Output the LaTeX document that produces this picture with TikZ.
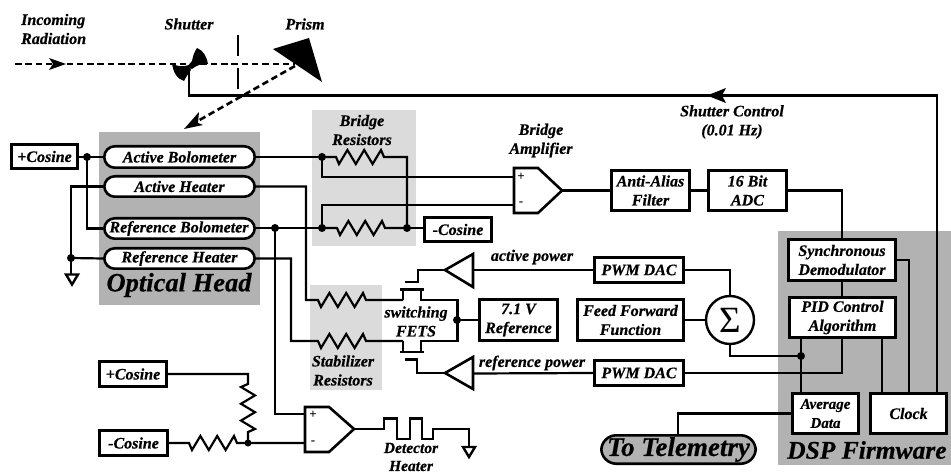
\documentclass[tikz,border=0pt]{standalone}
\usepackage{fontspec}
\setmainfont[BoldItalicFeatures={FakeBold=0.5}]{Liberation Serif}
\definecolor{headgray}{gray}{0.70}
\definecolor{palegray}{gray}{0.86}
\newcommand{\lab}[1]{\fontsize{#1}{19}\selectfont\bfseries\itshape}
\tikzset{
  x=1pt,y=-1pt,
  wire/.style={line width=2.2pt,line join=miter},
  beam/.style={line width=2.6pt,dash pattern=on 6.5pt off 3.8pt},
  blockbox/.style={draw,line width=2.6pt,fill=white,inner sep=0pt,align=center,font=\lab{16}},
  pill/.style={blockbox,rounded corners=10.5pt},
  junction/.style={circle,fill=black,inner sep=0pt,minimum size=8pt},
  caption/.style={align=center,inner sep=0pt,font=\lab{16}},
  bigcap/.style={inner sep=0pt,font=\lab{26.5}},
  signmark/.style={inner sep=0pt,font=\fontsize{13}{13}\selectfont\bfseries},
  amp/.style={draw,line width=2.6pt,fill=white,line join=miter},
  groundmark/.style={draw,line width=2.4pt,fill=white,line join=miter},
}
\newcommand{\boxat}[7]{\node[#6,minimum width={#4-#2-2.6},minimum height={#5-#3-2.6}] (#1) at ({(#2+#4)/2},{(#3+#5)/2}) {#7};}
\newcommand{\resH}{-- ++(3,7) -- ++(8.4,-14) -- ++(8.4,14) -- ++(8.4,-14) -- ++(8.4,14) -- ++(8.4,-14) -- ++(3,7)}
\newcommand{\resV}{-- ++(-7,3) -- ++(14,8.4) -- ++(-14,8.4) -- ++(14,8.4) -- ++(-14,8.4) -- ++(14,8.4) -- ++(-7,3)}
\begin{document}
\begin{tikzpicture}
\useasboundingbox (0,0) rectangle (951,473);
\fill[white] (0,0) rectangle (951,473);
% zones
\fill[headgray] (99,132) rectangle (260,305);
\fill[palegray] (312,110) rectangle (416,246);
\fill[palegray] (310,285) rectangle (382,390);
\fill[headgray] (778,231) rectangle (951,465);
% optics
\coordinate (beamstart) at (15,64);
\coordinate (prismhit) at (295,64);
\coordinate (prismexit) at (295,66);
\coordinate (headtop) at (196,122);
\draw[beam] (beamstart) -- (prismhit);
\fill (49,58) -- (66,64) -- (49,70) -- (53,64) -- cycle;
\draw[line width=2.4pt] (238,35) -- (238,56) (238,68) -- (238,89);
\draw[beam] (prismexit) -- (headtop);
\fill (184,129) -- (199,112) -- (198,123) -- (203,125) -- cycle;
\fill (273,49) -- (309,38) -- (322,82) -- cycle;
% shutter
\fill (172,63) .. controls (177,67) and (183,67) .. (189,65) -- (191,70) .. controls (188,74) and (186,77) .. (184,81) .. controls (177,79) and (173,72) .. (172,63) -- cycle;
\fill (187,67) -- (192,61) .. controls (193,55) and (195,51) .. (197,48) .. controls (203,50) and (207,57) .. (208,64) .. controls (203,63) and (197,65) .. (192,69) -- cycle;
\coordinate (shutterfoot) at (189,70);
\coordinate (shuttercorner) at (189,95.5);
\coordinate (firmcorner) at (937,95.5);
% blocks: optical head
\boxat{posA}{10}{143}{79}{170}{blockbox}{+Cosine}
\boxat{actbol}{103}{145}{256}{169}{pill}{Active Bolometer}
\boxat{actheat}{103}{175}{256}{198}{pill}{Active Heater}
\boxat{refbol}{103}{217}{256}{240}{pill}{\kern-1pt Reference Bolometer}
\boxat{refheat}{103}{247}{256}{270}{pill}{Reference Heater}
% other blocks
\boxat{negA}{423}{216}{493}{243}{blockbox}{-Cosine}
\boxat{alias}{610}{169}{691}{212}{blockbox}{Anti-Alias\\Filter}
\boxat{adc}{707}{169}{788}{212}{blockbox}{16 Bit\\ADC}
\boxat{synch}{787}{238}{897}{282}{blockbox}{Synchronous\\Demodulator}
\boxat{pid}{788}{296}{897}{339}{blockbox}{PID Control\\Algorithm}
\boxat{avg}{791}{392}{860}{435}{blockbox}{\fontsize{15}{19}\selectfont Average\\\fontsize{15}{19}\selectfont Data}
\boxat{clock}{869}{392}{948}{435}{blockbox}{Clock}
\boxat{pwmA}{593}{256}{685}{284}{blockbox}{PWM DAC}
\boxat{pwmB}{593}{359}{685}{387}{blockbox}{PWM DAC}
\boxat{ff}{576}{298}{685}{342}{blockbox}{Feed Forward\\Function}
\boxat{ref}{478}{298}{559}{342}{blockbox}{7.1 V\\Reference}
\boxat{posB}{98}{360}{168}{388}{blockbox}{+Cosine}
\boxat{negB}{98}{429}{169}{457}{blockbox}{-Cosine}
\node[draw,line width=2.4pt,fill=white,circle,minimum size=48pt,inner sep=0pt,font=\fontsize{37}{37}\selectfont] (sum) at (730,320) {Σ};
\boxat{telem}{600}{434}{757}{465}{pill,fill=headgray,rounded corners=15pt,font=\lab{27}}{To Telemetry}
% wires
\coordinate (jtop) at (87,157);
\coordinate (jgnd) at (71,258);
\coordinate (jrefbol) at (275,228);
\coordinate (jbrA) at (322,157);
\coordinate (jbrB) at (322,228);
\coordinate (jbrC) at (407,228);
\coordinate (jfet) at (457,320);
\coordinate (jpid) at (801,356);
\coordinate (jneg) at (248,443);
\coordinate (gndA) at (71,275);
\coordinate (gndB) at (469,447);
% optical head wiring
\draw[wire] (posA.east |- jtop) -- (actbol.west |- jtop);
\draw[wire] (jtop) |- (refbol.west);
\draw[wire] (actheat.west) -| (gndA);
\draw[wire] (jgnd) -- (refheat.west);
\draw[wire] (shutterfoot) -- (shuttercorner) -- (firmcorner) -- (firmcorner |- clock.north);
\fill (707,95.5) -- (726,88) -- (722,95.5) -- (726,103) -- cycle;
% bridge
\draw[wire] (actbol.east) -- (jbrA);
\draw[wire] (jbrA) -- ++(14,0) \resH -- (407,157) -- (jbrC);
\draw[wire] (refbol.east |- jbrB) -- (jbrB);
\draw[wire] (jbrB) -- ++(15,0) \resH -- (jbrC);
\draw[wire] (jbrC) -- (negA.west |- jbrC);
\coordinate (ampAp) at (514,177);
\coordinate (ampAn) at (514,205);
\coordinate (ampAo) at (562,190.5);
\draw[wire] (jbrA) |- (ampAp);
\draw[wire] (jbrB) |- (ampAn);
\draw[amp] (514,168) -- (538,168) -- (ampAo) -- (538,213) -- (514,213) -- cycle;
\draw[wire] (ampAo) -- (alias.west |- ampAo);
\draw[wire] (alias.east) -- (adc.west);
\draw[wire] (adc.east) -| (synch.north);
\draw[wire] (synch.south) -- (pid.north -| synch.south);
\coordinate (clockA) at (909,392);
\coordinate (clockB) at (882,392);
\draw[wire] (synch.east) -| (clockA);
\draw[wire] (pid.south -| clockB) -- (clockB);
% heaters
\draw[wire] (actheat.east) -| (306,300) -- (318,300) \resH -- (403,300);
\draw[wire] (refheat.east) -| (291,341) -- (318,341) \resH -- (403,341);
% FETs
\coordinate (gateA) at (405,282);
\coordinate (gateB) at (405,359.5);
\coordinate (triA) at (445,270);
\coordinate (triB) at (445,373);
\draw[wire] (gateA) -- (418,282) -- (418,270) -- (triA);
\draw[wire] (gateB) -- (417,359.5) -- (417,373) -- (triB);
\draw[wire] (403,300) -- (403,289.5) (421,289.5) -- (421,300) -- (457.5,300) -- (457.5,341) -- (421,341) -- (421,352) (403,341) -- (403,352);
\draw[line width=2.4pt] (400,289.5) -- (424,289.5) (400,352) -- (424,352);
\draw[amp] (triA) -- (473,254) -- (473,287) -- cycle;
\draw[amp] (triB) -- (473,357) -- (473,389) -- cycle;
\draw[wire] (473,270) -- (pwmA.west |- triA);
\draw[wire] (473,373.5) -- (pwmB.west |- triB);
\draw[wire] (jfet) -- (ref.west |- jfet);
% sum & control
\draw[wire] (pwmA.east) -| (sum.north);
\draw[wire] (ff.east |- sum) -- (sum.west);
\draw[wire] (sum.south) |- (jpid);
\draw[wire] (pid.south -| jpid) -- (avg.north -| jpid);
\draw[wire] (pid.south -| 842,339) |- (pwmB.east);
\draw[wire] (avg.west) -| (telem.north -| 678,0);
% lower left
\coordinate (ampBp) at (305,414);
\coordinate (ampBn) at (305,443);
\coordinate (ampBo) at (354,429);
\draw[wire] (posB.east) -| (248,384) \resV -- (jneg);
\draw[wire] (negB.east |- jneg) -- (189,443) \resH -- (jneg) -- (ampBn);
\draw[wire] (jrefbol) |- (ampBp);
\draw[amp] (305,407) -- (329,407) -- (ampBo) -- (329,452) -- (305,452) -- cycle;
\draw[wire] (ampBo) -- (384,429) -- (384,418.5) -- (397,418.5) -- (397,439) -- (410,439) -- (410,418.5) -- (422,418.5) -- (422,439) -- (433,439) -- (433,429) -- (469,429) -- (gndB);
% grounds
\draw[groundmark] (66,274.5) -- (78,274.5) -- (72,284.5) -- cycle;
\draw[groundmark] (463,447) -- (475,447) -- (469,457) -- cycle;
% dots
\node[junction] (d1) at (jtop) {};
\node[junction] (d2) at (jgnd) {};
\node[junction] (d3) at (jrefbol) {};
\node[junction] (d4) at (jbrA) {};
\node[junction] (d5) at (jbrB) {};
\node[junction] (d6) at (jbrC) {};
\node[junction] (d7) at (jfet) {};
\node[junction] (d8) at (jpid) {};
\node[junction,minimum size=7pt] (d9) at (jneg) {};
% labels
\node[caption,align=left,anchor=west] (l1) at (21,29) {Incoming\\Radiation};
\node[caption] (l2) at (189,24) {Shutter};
\node[caption] (l3) at (305,24) {Prism};
\node[caption] (l4) at (732,122) {Shutter Control\\(0.01 Hz)};
\node[caption] (l5) at (362,130) {Bridge\\Resistors};
\node[caption] (l6) at (541,140.5) {Bridge\\Amplifier};
\node[caption] (l7) at (532,257) {active power};
\node[caption] (l8) at (532,363) {reference power};
\node[caption] (l9) at (416,321.5) {switching\\FETS};
\node[caption] (l10) at (343,370.5) {Stabilizer\\Resistors};
\node[caption,font=\fontsize{15.5}{18}\selectfont\bfseries\itshape] (l11) at (411,457) {Detector\\Heater};
\node[signmark] (p1) at (521,177) {+};
\node[signmark] (m1) at (521,204) {-};
\node[signmark] (p2) at (313,415) {+};
\node[signmark] (m2) at (313,443) {-};
\node[bigcap] (l12) at (179,285) {Optical Head};
\node[bigcap,anchor=west,font=\lab{25.5}] (l13) at (787,450) {DSP Firmware};
\end{tikzpicture}
\end{document}
